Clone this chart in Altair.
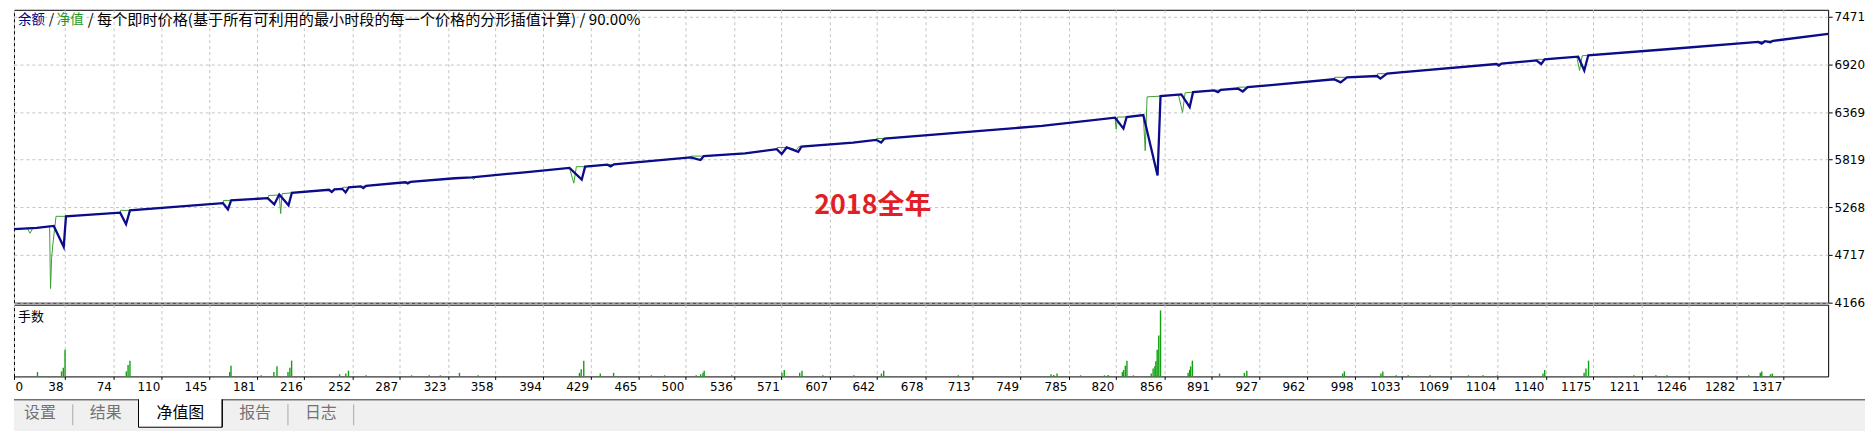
import altair as alt
import pandas as pd

# ---------------- data ----------------
balance_x = [0, 17, 29.6, 37, 38.7, 79, 83.4, 86.3, 155.5, 159.2, 161.6, 188.8, 193.7, 197.4, 204.3, 206.8,
             234.4, 236.5, 238.5, 244.3, 246.8, 249.2, 258, 260, 262, 291.2, 293, 295, 328.2, 340.6, 380,
             413.4, 422.5, 425, 441.7, 444, 446.5, 503.4, 510.9, 513.3, 544, 567.6, 571.3, 575, 583.6, 586,
             624.4, 641.6, 645.3, 647.8, 765, 819.4, 825.6, 828, 840.4, 851, 853.2, 868.7, 874.9, 877.4,
             893, 896, 898, 910.7, 914.4, 918, 935.3, 982.3, 987.2, 992, 1014.4, 1016.8, 1021.7, 1031.6,
             1103.2, 1105, 1107, 1132.8, 1136.5, 1139, 1150, 1164, 1168.5, 1171.5, 1230, 1298, 1300.5,
             1303, 1307, 1309, 1350]
balance_v = [5015, 5030, 5053, 4812, 5164, 5207, 5073, 5233, 5317, 5245, 5348, 5374, 5302, 5417, 5291, 5436,
             5471, 5445, 5475, 5482, 5440, 5500, 5510, 5490, 5515, 5558, 5545, 5562, 5604, 5615, 5673,
             5723, 5589, 5738, 5761, 5740, 5765, 5845, 5815, 5860, 5891, 5941, 5884, 5960, 5910, 5970,
             6017, 6048, 6017, 6063, 6209, 6304, 6178, 6312, 6335, 5635, 6553, 6573, 6427, 6599,
             6620, 6600, 6625, 6641, 6607, 6657, 6680, 6748, 6713, 6771, 6786, 6756, 6813, 6829,
             6924, 6905, 6928, 6966, 6924, 6978, 6993, 7010, 6850, 7025, 7095, 7180, 7160,
             7188, 7175, 7192, 7272]

equity_x = [0, 10, 12, 14, 17, 26.5, 27.2, 28, 29, 31.3, 38.7, 79, 79.3, 86.3, 155.5, 155.8, 161.6,
            188.8, 189.5, 197.4, 198.5, 199.5, 206.8, 234.4, 236, 237.5, 244.3, 244.8, 249.2, 258, 262,
            291.2, 295, 328.2, 340.6, 342, 343.5, 380, 413.4, 416.6, 418.5, 425, 441.7, 446.5, 503.4,
            503.8, 513.3, 544, 567.6, 568, 575, 580, 582, 584, 586, 624.4, 641.6, 642, 647.8, 765,
            819.4, 820.2, 821.2, 828, 840.4, 841.8, 843.2, 853.2, 866.5, 869.6, 871.5, 877.4, 893, 898,
            910.7, 911, 918, 935.3, 982.3, 982.8, 992, 1014.4, 1014.8, 1021.7, 1031.6, 1103.2, 1107,
            1132.8, 1133.2, 1139, 1150, 1163, 1165, 1167, 1171.5, 1230, 1298, 1303, 1309, 1350]
equity_v = [5015, 5025, 4968, 5027, 5030, 5050, 4330, 4680, 4850, 5164, 5164, 5207, 5233, 5233, 5317, 5348, 5348,
            5374, 5405, 5410, 5196, 5425, 5436, 5471, 5448, 5475, 5482, 5500, 5500, 5510, 5515,
            5558, 5562, 5604, 5615, 5589, 5618, 5673, 5723, 5547, 5738, 5738, 5761, 5765, 5845,
            5860, 5860, 5891, 5941, 5960, 5960, 5945, 5925, 5970, 5970, 6017, 6048, 6063, 6063, 6209,
            6304, 6171, 6312, 6312, 6335, 5922, 6545, 6553, 6571, 6365, 6592, 6599, 6620, 6625,
            6641, 6657, 6657, 6680, 6748, 6771, 6771, 6786, 6813, 6813, 6829, 6924, 6928,
            6966, 6978, 6978, 6993, 7008, 6850, 7020, 7025, 7095, 7180, 7188, 7192, 7272]

lot_x = [17.5, 35.4, 36.7, 38, 83.6, 84.9, 86.3, 160.5, 161.5, 184, 193.4, 195.7, 203.9, 205.3, 206.6,
         242.3, 246.9, 248.9, 262, 295.9, 309, 317.3, 331.5, 345.4, 420.8, 422.1, 424, 436.3, 446.2,
         474.3, 484.2, 507.7, 511, 512.7, 513.6, 534.1, 571.5, 573.2, 584.7, 586.4, 601.9, 625, 645.5,
         647.2, 702.7, 771.7, 773.7, 776.2, 793.7, 811.5, 814.2, 824.8, 825.7, 827, 828.2, 833, 846.3,
         847.7, 849, 849.7, 850.7, 851.9, 853.2, 873.7, 874.9, 875.6, 876.9, 897.1, 915.6, 917.4,
         988.7, 990, 1017.2, 1018.6, 1028.6, 1037.5, 1053.7, 1082.3, 1093.1, 1103.9, 1137.8, 1139.1,
         1168.4, 1169.8, 1171.7, 1205.5, 1221.8, 1230, 1290.9, 1299.5, 1300.6, 1307.1, 1308.5]
lot_v = [0.06, 0.07, 0.12, 0.37, 0.07, 0.16, 0.22, 0.06, 0.15, 0.015, 0.06, 0.14, 0.06, 0.12, 0.22,
         0.03, 0.04, 0.08, 0.015, 0.015, 0.015, 0.015, 0.05, 0.015, 0.05, 0.10, 0.22, 0.04, 0.05,
         0.015, 0.015, 0.015, 0.03, 0.05, 0.08, 0.015, 0.05, 0.09, 0.05, 0.08, 0.015, 0.015, 0.04,
         0.08, 0.015, 0.03, 0.02, 0.04, 0.015, 0.015, 0.02, 0.06, 0.09, 0.15, 0.22, 0.015, 0.04,
         0.11, 0.14, 0.21, 0.37, 0.57, 0.92, 0.05, 0.09, 0.14, 0.22, 0.04, 0.05, 0.08,
         0.04, 0.07, 0.04, 0.07, 0.015, 0.015, 0.015, 0.015, 0.015, 0.015, 0.04, 0.09,
         0.05, 0.11, 0.22, 0.015, 0.015, 0.015, 0.015, 0.05, 0.07, 0.03, 0.04]

x_ticks = [0, 38, 74, 110, 145, 181, 216, 252, 287, 323, 358, 394, 429, 465, 500, 536, 571, 607, 642,
           678, 713, 749, 785, 820, 856, 891, 927, 962, 998, 1033, 1069, 1104, 1140, 1175, 1211, 1246,
           1282, 1317]
y_ticks = [4166, 4717, 5268, 5819, 6369, 6920, 7471]

title_parts = ["余额", "/", "净值", "/ 每个即时价格(基于所有可利用的最小时段的每一个价格的分形插值计算) / 90.00%"]
lots_label = ["手数"]
annotation = ["2018全年"]
tabs = ["设置", "结果", "净值图", "报告", "日志"]

# ---------------- layout / style ----------------
W = 1821
H_MAIN = 294
H_LOTS = 72
H_TABS = 53          # includes the axis-label band above the tab strip
TAB_TOP = 21
W_TABS = 1858
X_DOMAIN = [0, 1350]
Y_DOMAIN = [4166, 7551]
GRID = "#c4c4c4"
CJK = "Noto Sans CJK SC"
NUM = "DejaVu Sans"

bal = pd.DataFrame({"x": balance_x, "v": balance_v})
eq = pd.DataFrame({"x": equity_x, "v": equity_v})
lots = pd.DataFrame({"x": lot_x, "v": lot_v})
one = pd.DataFrame({"a": [0]})

xscale = alt.Scale(domain=X_DOMAIN, nice=False, zero=False)
yscale = alt.Scale(domain=Y_DOMAIN, nice=False, zero=False)

x_main_axis = alt.Axis(values=x_ticks, labels=False, ticks=False, domain=False, grid=True,
                       gridDash=[3, 3], gridColor=GRID, title=None)
y_main_axis = alt.Axis(orient="right", values=y_ticks, format="d", grid=True, gridDash=[3, 3],
                       gridColor=GRID, domain=False, ticks=True, tickSize=4, tickColor="black",
                       labelPadding=2, labelFont=NUM, labelFontSize=12, labelColor="black", title=None,
                       labelOverlap=False, labelFlush=False)

eq_line = alt.Chart(eq).mark_line(color="#3aa032", strokeWidth=1).encode(
    x=alt.X("x:Q", scale=xscale, axis=x_main_axis),
    y=alt.Y("v:Q", scale=yscale, axis=y_main_axis),
    order="x:Q",
)
bal_line = alt.Chart(bal).mark_line(color="#0c0c8a", strokeWidth=2.3).encode(
    x=alt.X("x:Q", scale=xscale),
    y=alt.Y("v:Q", scale=yscale),
    order="x:Q",
)

title_colors = ["#000080", "black", "#1f9a1f", "black"]
title_x = [4, 35, 43, 74]
title_size = [13.5, 14, 13.5, 15.2]
title_layers = []
for txt, col, xx, fs in zip(title_parts, title_colors, title_x, title_size):
    title_layers.append(
        alt.Chart(pd.DataFrame({"t": [txt]})).mark_text(
            font=CJK, fontSize=fs, color=col, align="left", baseline="middle"
        ).encode(text="t:N", x=alt.value(xx), y=alt.value(10))
    )

annot = alt.Chart(pd.DataFrame({"t": annotation})).mark_text(
    font=CJK, fontSize=27, fontWeight="bold", color="#e21f26", align="center", baseline="middle"
).encode(text="t:N", x=alt.value(862), y=alt.value(197))

main = alt.layer(eq_line, bal_line, *title_layers, annot).properties(width=W, height=H_MAIN)

x_lots_axis = alt.Axis(
    values=x_ticks, format="d", grid=True, gridDash=[3, 3], gridColor=GRID, domain=False, ticks=True,
    tickSize=3, tickColor="black", labelFont=NUM, labelFontSize=12, labelColor="black", labelPadding=2,
    labelAlign={"condition": {"test": "datum.value === 0", "value": "left"}, "value": "right"},
    labelOffset={"condition": {"test": "datum.value === 0", "value": 1}, "value": -2},
    labelFlush=False, labelOverlap=False, title=None,
)
lot_bars = alt.Chart(lots).mark_rule(color="#12a012", strokeWidth=1.4).encode(
    x=alt.X("x:Q", scale=xscale, axis=x_lots_axis),
    y=alt.Y("v:Q", scale=alt.Scale(domain=[0, 1], nice=False), axis=None),
    y2=alt.datum(0),
)
lots_txt = alt.Chart(pd.DataFrame({"t": lots_label})).mark_text(
    font=CJK, fontSize=13, color="black", align="left", baseline="middle"
).encode(text="t:N", x=alt.value(4), y=alt.value(12))
lots_panel = alt.layer(lot_bars, lots_txt).properties(width=W, height=H_LOTS)

# ---------------- tab strip ----------------
T = TAB_TOP
SEL_L, SEL_R, SEL_B = 125, 209, T + 28
tab_layers = [
    alt.Chart(one).mark_rect(color="#f0f0f0").encode(
        x=alt.value(0), x2=alt.value(W_TABS), y=alt.value(T), y2=alt.value(H_TABS)),
    alt.Chart(one).mark_rule(color="#303030", strokeWidth=1).encode(
        x=alt.value(0), x2=alt.value(SEL_L), y=alt.value(T + 0.5)),
    alt.Chart(one).mark_rule(color="#303030", strokeWidth=1).encode(
        x=alt.value(SEL_R), x2=alt.value(W_TABS), y=alt.value(T + 0.5)),
    alt.Chart(one).mark_rect(color="white").encode(
        x=alt.value(SEL_L), x2=alt.value(SEL_R), y=alt.value(T), y2=alt.value(SEL_B)),
    alt.Chart(one).mark_rule(color="black", strokeWidth=1).encode(
        x=alt.value(SEL_L), y=alt.value(T), y2=alt.value(SEL_B)),
    alt.Chart(one).mark_rule(color="black", strokeWidth=1.5).encode(
        x=alt.value(SEL_R), y=alt.value(T), y2=alt.value(SEL_B)),
    alt.Chart(one).mark_rule(color="black", strokeWidth=1).encode(
        x=alt.value(SEL_L), x2=alt.value(SEL_R), y=alt.value(SEL_B)),
]
for sx in [59, 275, 341]:
    tab_layers.append(alt.Chart(one).mark_rule(color="#a8a8a8", strokeWidth=1).encode(
        x=alt.value(sx), y=alt.value(T + 5), y2=alt.value(T + 26)))
tab_centers = [26, 92, 167, 242, 308]
for i, (name, cx) in enumerate(zip(tabs, tab_centers)):
    tab_layers.append(
        alt.Chart(pd.DataFrame({"t": [name]})).mark_text(
            font=CJK, fontSize=16, color="black" if i == 2 else "#737373",
            align="center", baseline="middle"
        ).encode(text="t:N", x=alt.value(cx), y=alt.value(T + 14))
    )
tab_panel = alt.layer(*tab_layers).properties(
    width=W_TABS, height=H_TABS,
    view=alt.ViewBackground(fill="transparent", stroke="transparent", strokeWidth=0),
)

chart = alt.vconcat(main, lots_panel, tab_panel, spacing=2, bounds="flush").properties(
    padding=0, background="white"
).configure_view(stroke="black", strokeWidth=1)

chart.save("out.html", embed_options={"renderer": "svg", "actions": False})
